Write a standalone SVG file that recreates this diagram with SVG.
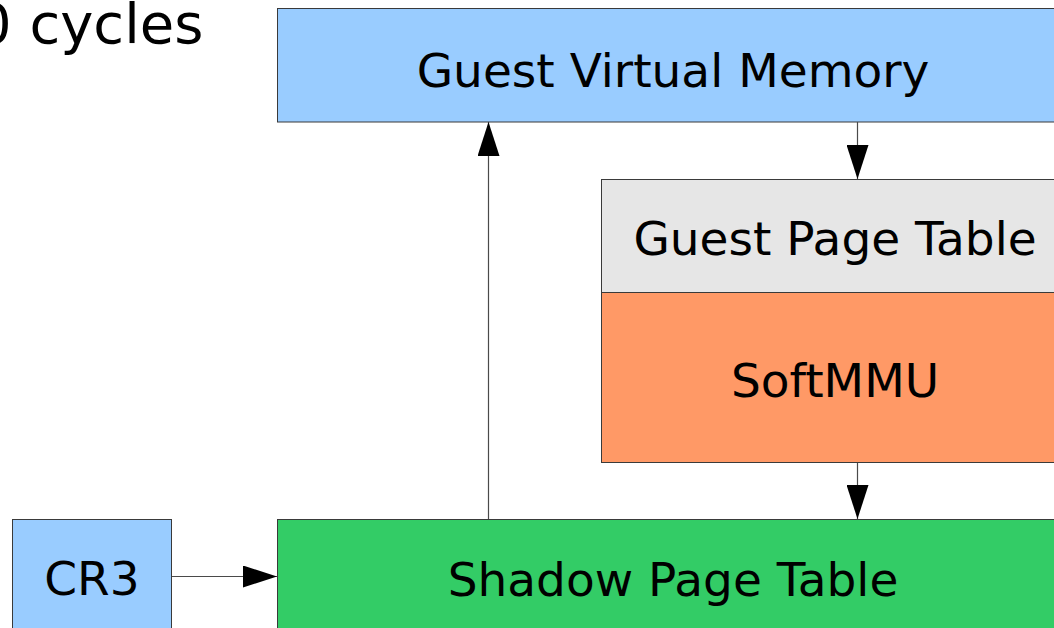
<svg xmlns="http://www.w3.org/2000/svg" width="1054" height="628" viewBox="0 0 1054 628">
  <style>
    .box { stroke: #3a3a3a; stroke-width: 1; }
    .lbl { font-family: "DejaVu Sans", Verdana, sans-serif; font-size: 47px; fill: #000; text-anchor: middle; }
    .wire { stroke: #4a4a4a; stroke-width: 1.2; fill: none; }
  </style>
  <defs>
    <marker id="head" markerUnits="userSpaceOnUse" markerWidth="34" markerHeight="22" refX="34" refY="11" orient="auto">
      <path d="M0,0 L34,11 L0,22 Z" fill="#000"/>
    </marker>
  </defs>

  <rect width="1054" height="628" fill="#fff"/>

  <text id="cycles" x="-24" y="43" font-family="DejaVu Sans, Verdana, sans-serif" font-size="56" fill="#000">0 cycles</text>

  <g id="guest-virtual-memory">
    <rect class="box" x="277.5" y="8.5" width="791" height="113.5" fill="#99ccff"/>
    <text class="lbl" x="673" y="87">Guest Virtual Memory</text>
  </g>

  <g id="guest-page-table">
    <rect class="box" x="601.5" y="179.5" width="467" height="113" fill="#e6e6e6"/>
    <text class="lbl" x="835" y="255">Guest Page Table</text>
  </g>

  <g id="softmmu">
    <rect class="box" x="601.5" y="292.5" width="467" height="170" fill="#ff9966"/>
    <text class="lbl" x="835" y="397">SoftMMU</text>
  </g>

  <g id="cr3">
    <rect class="box" x="12.5" y="519.5" width="159" height="130" fill="#99ccff"/>
    <text class="lbl" x="92" y="595">CR3</text>
  </g>

  <g id="shadow-page-table">
    <rect class="box" x="277.5" y="519.5" width="791" height="130" fill="#33cc66"/>
    <text class="lbl" x="673" y="596">Shadow Page Table</text>
  </g>

  <g id="connectors">
    <line class="wire" x1="857.5" y1="122" x2="857.5" y2="179" marker-end="url(#head)"/>
    <line class="wire" x1="857.5" y1="463" x2="857.5" y2="519" marker-end="url(#head)"/>
    <line class="wire" x1="488.5" y1="519" x2="488.5" y2="122" marker-end="url(#head)"/>
    <line class="wire" x1="172" y1="576.5" x2="277" y2="576.5" marker-end="url(#head)"/>
  </g>
</svg>
